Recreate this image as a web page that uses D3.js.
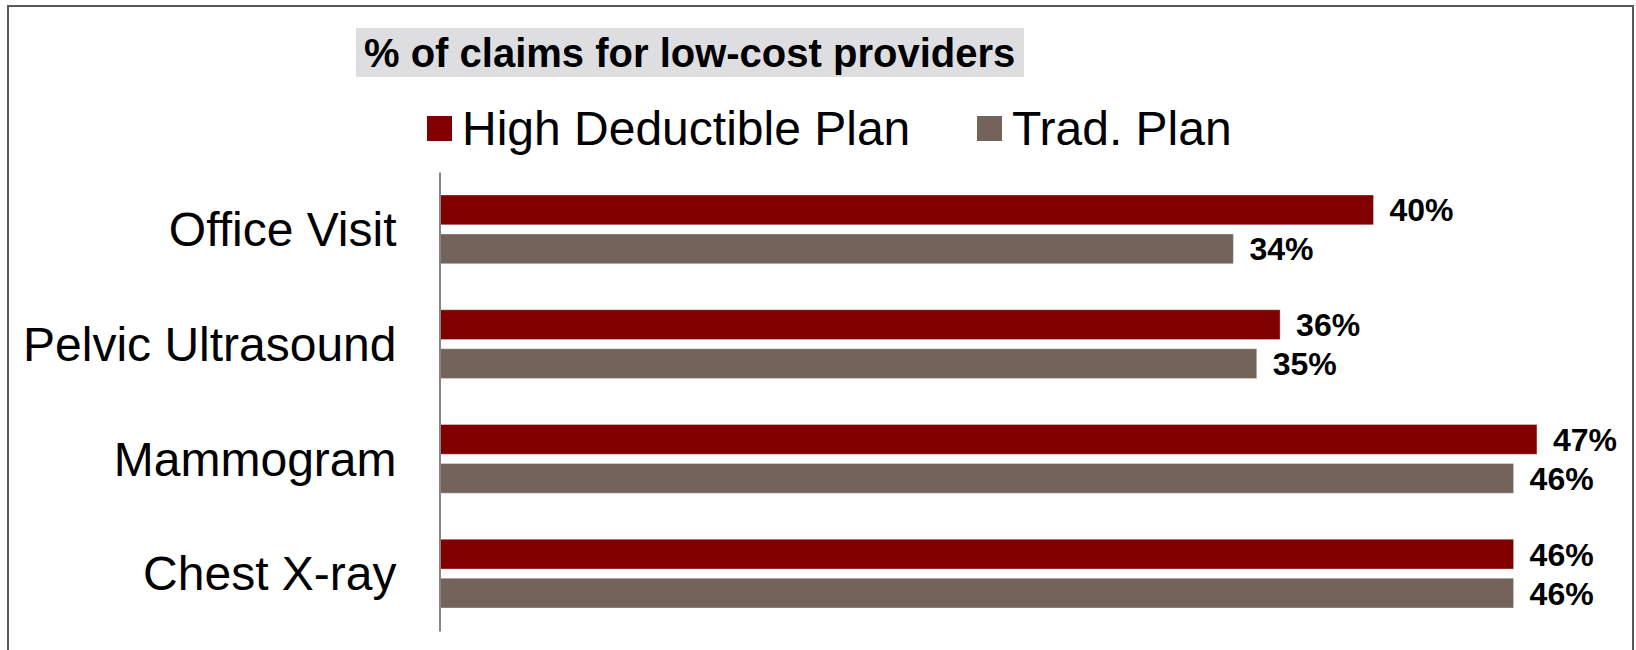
<!DOCTYPE html>
<html>
<head>
<meta charset="utf-8">
<script src="https://cdn.jsdelivr.net/npm/d3@7"></script>
<style>
  html, body { margin: 0; padding: 0; background: #ffffff; }
  svg { display: block; font-family: "Liberation Sans", Arial, sans-serif; }
</style>
</head>
<body>
<svg id="chart" width="1636" height="650"></svg>
<script>
// Procedure categories, top to bottom
const categories = ["Office Visit", "Pelvic Ultrasound", "Mammogram", "Chest X-ray"];
// Share of claims going to low-cost providers (%)
const highDeductible = [40, 36, 47, 46];
const traditional = [34, 35, 46, 46];
const seriesNames = ["High Deductible Plan", "Trad. Plan"];
const seriesColors = ["#800000", "#74635A"];
const chartTitle = "% of claims for low-cost providers";

const svg = d3.select("#chart");

// Outer frame
svg.append("rect")
  .attr("x", 8).attr("y", 6)
  .attr("width", 1625).attr("height", 660)
  .attr("fill", "none")
  .attr("stroke", "#595959")
  .attr("stroke-width", 2);

// Title with shaded background
svg.append("rect")
  .attr("x", 356).attr("y", 28)
  .attr("width", 668).attr("height", 49)
  .attr("fill", "#DEDEE0");
svg.append("text")
  .attr("x", 364).attr("y", 67)
  .attr("font-size", 40)
  .attr("font-weight", "bold")
  .attr("fill", "#000")
  .text(chartTitle);

// Legend
const legendItems = [
  { name: seriesNames[0], color: seriesColors[0], x: 427 },
  { name: seriesNames[1], color: seriesColors[1], x: 977 }
];
const legend = svg.append("g");
legendItems.forEach(d => {
  legend.append("rect")
    .attr("x", d.x).attr("y", 116)
    .attr("width", 25).attr("height", 25)
    .attr("fill", d.color);
  legend.append("text")
    .attr("x", d.x + 35).attr("y", 145)
    .attr("font-size", 48)
    .attr("fill", "#000")
    .text(d.name);
});

// Scales
const x = d3.scaleLinear().domain([0, 50]).range([439.5, 1607]);
const y0 = d3.scaleBand().domain(categories).range([172, 631]);
const y1 = d3.scaleBand().domain(seriesNames)
  .range([0, y0.bandwidth()])
  .paddingInner(0.236)
  .paddingOuter(0.59);

const rows = categories.map((c, i) => ({
  category: c,
  values: [
    { series: seriesNames[0], value: highDeductible[i], color: seriesColors[0] },
    { series: seriesNames[1], value: traditional[i], color: seriesColors[1] }
  ]
}));

const groups = svg.append("g").selectAll("g")
  .data(rows)
  .join("g")
  .attr("transform", d => `translate(0,${y0(d.category)})`);

groups.selectAll("rect")
  .data(d => d.values)
  .join("rect")
  .attr("x", x(0))
  .attr("y", d => y1(d.series))
  .attr("width", d => x(d.value) - x(0))
  .attr("height", y1.bandwidth())
  .attr("fill", d => d.color)
  .attr("stroke", "rgba(255,255,255,0.35)")
  .attr("stroke-width", 1);

// Value labels
groups.selectAll("text")
  .data(d => d.values)
  .join("text")
  .attr("x", d => x(d.value) + 16)
  .attr("y", d => y1(d.series) + y1.bandwidth() / 2)
  .attr("dy", "0.36em")
  .attr("font-size", 32)
  .attr("font-weight", "bold")
  .attr("fill", "#000")
  .text(d => d.value + "%");

// Category axis
const yAxis = d3.axisLeft(y0).tickSize(0).tickSizeOuter(0).tickPadding(43);
const axisG = svg.append("g")
  .attr("transform", `translate(${x(0)},0)`)
  .call(yAxis);
axisG.select(".domain")
  .attr("stroke", "#868686")
  .attr("stroke-width", 2);
axisG.selectAll(".tick text")
  .attr("font-size", 48)
  .attr("font-family", "'Liberation Sans', Arial, sans-serif")
  .attr("fill", "#000")
  .attr("dy", "0.35em");
</script>
</body>
</html>
